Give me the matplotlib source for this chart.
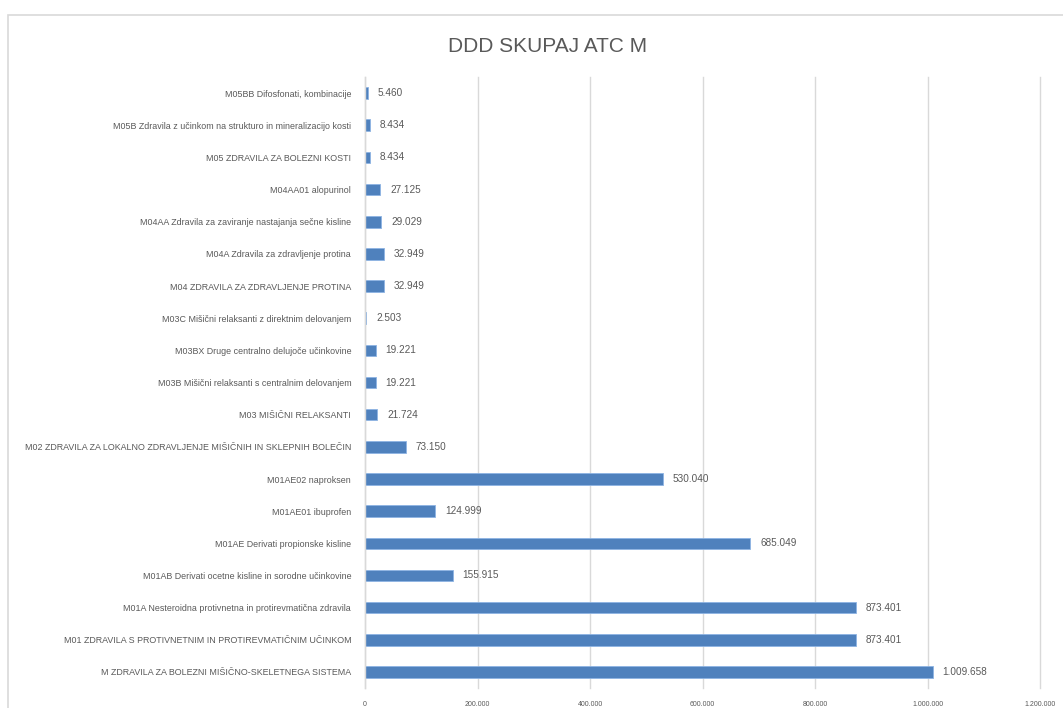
import matplotlib.pyplot as plt
from matplotlib.patches import Rectangle
from matplotlib.ticker import FuncFormatter

# categories listed bottom to top
categories = [
    "M ZDRAVILA ZA BOLEZNI MIŠIČNO-SKELETNEGA SISTEMA",
    "M01 ZDRAVILA S PROTIVNETNIM IN PROTIREVMATIČNIM UČINKOM",
    "M01A Nesteroidna protivnetna in protirevmatična zdravila",
    "M01AB Derivati ocetne kisline in sorodne učinkovine",
    "M01AE Derivati propionske kisline",
    "M01AE01 ibuprofen",
    "M01AE02 naproksen",
    "M02 ZDRAVILA ZA LOKALNO ZDRAVLJENJE MIŠIČNIH IN SKLEPNIH BOLEČIN",
    "M03 MIŠIČNI RELAKSANTI",
    "M03B Mišični relaksanti s centralnim delovanjem",
    "M03BX Druge centralno delujoče učinkovine",
    "M03C Mišični relaksanti z direktnim delovanjem",
    "M04 ZDRAVILA ZA ZDRAVLJENJE PROTINA",
    "M04A Zdravila za zdravljenje protina",
    "M04AA Zdravila za zaviranje nastajanja sečne kisline",
    "M04AA01 alopurinol",
    "M05 ZDRAVILA ZA BOLEZNI KOSTI",
    "M05B Zdravila z učinkom na strukturo in mineralizacijo kosti",
    "M05BB Difosfonati, kombinacije",
]
ddd_values = [1009658, 873401, 873401, 155915, 685049, 124999, 530040,
              73150, 21724, 19221, 19221, 2503, 32949, 32949, 29029,
              27125, 8434, 8434, 5460]
x_ticks = [0, 200000, 400000, 600000, 800000, 1000000, 1200000]


def dot_thousands(v, pos=None):
    return "{:,}".format(int(v)).replace(",", ".")


plt.rcParams['font.family'] = ['Liberation Sans', 'DejaVu Sans']
text_color = '#595959'
bar_color = '#4F81BD'

fig = plt.figure(figsize=(10.63, 7.08), dpi=100)
ax = fig.add_axes([0.3434, 0.0282, 0.635, 0.863])

y = range(len(categories))
ax.barh(y, ddd_values, height=0.36, color=bar_color, edgecolor='#8EB4E3',
        linewidth=0.6, zorder=3)

for yi, v in zip(y, ddd_values):
    ax.annotate(dot_thousands(v), (v, yi), xytext=(7, 0),
                textcoords='offset points', va='center', ha='left',
                fontsize=7.2, color=text_color)

ax.set_yticks(list(y))
ax.set_yticklabels(categories, fontsize=6.4, color=text_color)
ax.set_ylim(-0.5, len(categories) - 0.5)

ax.set_xlim(0, 1200000)
ax.set_xticks(x_ticks)
ax.xaxis.set_major_formatter(FuncFormatter(dot_thousands))
ax.tick_params(axis='x', labelsize=5, colors=text_color, length=0, pad=9)
ax.tick_params(axis='y', length=0, pad=10)

ax.grid(axis='x', color='#D9D9D9', linewidth=1, zorder=0)
for gl in ax.get_xgridlines():
    gl.set_clip_on(False)
for side in ['top', 'right', 'bottom']:
    ax.spines[side].set_visible(False)
ax.spines['left'].set_color('#D9D9D9')
ax.spines['left'].set_linewidth(1)
ax.spines['left'].set_zorder(4)

fig.text(0.515, 0.934, 'DDD SKUPAJ ATC M', ha='center', va='center',
         fontsize=15, color=text_color)

# chart area border (clipped on right and bottom)
fig.patches.append(Rectangle((8 / 1063, -0.05), 1.2, 0.05 + 693.5 / 708,
                             transform=fig.transFigure, fill=False,
                             edgecolor='#D9D9D9', linewidth=1.2))

plt.savefig('out.png', dpi=100)
